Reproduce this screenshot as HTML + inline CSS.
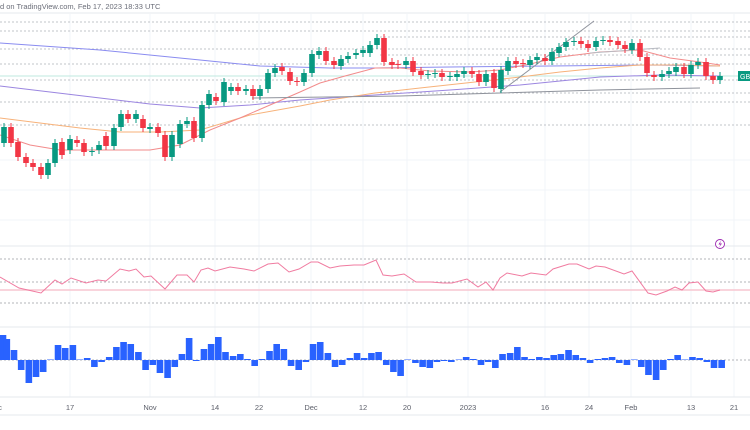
<!DOCTYPE html>
<html><head><meta charset="utf-8"><style>
html,body{margin:0;padding:0;background:#fff;width:750px;height:430px;overflow:hidden}
svg{display:block}
text{font-family:"Liberation Sans",sans-serif}
</style></head><body>
<svg id="s" width="750" height="430" xmlns="http://www.w3.org/2000/svg">
<rect width="750" height="430" fill="#fff"/>
<g id="grid" stroke="#f2f4f9" stroke-width="1"></g>
<line x1="0" y1="13" x2="750" y2="13" stroke="#e6e8ee"/>
<text x="0" y="9" font-size="7.5" fill="#6a6d78">d on TradingView.com, Feb 17, 2023 18:33 UTC</text>
<g id="levels" stroke="#aeb1b8" stroke-width="0.8" stroke-dasharray="2,2"></g>
<line x1="0" y1="76" x2="738" y2="76" stroke="#bfe8df" stroke-width="1"/>
<g fill="none" stroke-width="1">
<polyline stroke="#8a8cf0" points="0,43 100,50 200,60 260,66 330,68 375,68 450,67 550,66 650,65 720,66"/>
<polyline stroke="#9b86e0" points="0,86 50,92 100,98 150,104 200,108 250,105 300,100 375,95 450,90 520,85 600,77 660,75 720,76"/>
<polyline stroke="#f7b27a" points="0,118 40,123 80,128 120,132 160,132 200,130 250,115 300,106 330,100 375,93 420,88 475,82 520,77 560,72 600,68 640,65 680,65 720,66"/>
<polyline stroke="#f28b8b" points="0,135 30,145 60,150 100,150 150,150 180,145 210,130 240,118 270,105 300,92 320,83 345,76 375,68 400,68 430,71 470,72 500,70 530,64 560,57 600,52 640,50 670,58 700,62 720,65"/>
<polyline stroke="#8f939c" points="500,92 594,21"/>
<polyline stroke="#8f939c" points="252,98 400,96 500,93 600,90 700,88"/>
<polyline stroke="#b8bbc2" points="590,53 660,48"/>
</g>
<g id="candles"></g>
<rect x="738" y="71" width="12" height="10" fill="#089981"/>
<text x="740" y="79" font-size="7" fill="#fff">GBP</text>
<line x1="0" y1="246" x2="750" y2="246" stroke="#e6e8ee"/>
<circle cx="720" cy="244" r="4.5" fill="#fff" stroke="#9c27b0" stroke-width="0.9"/>
<path d="M721 240.5 L718.5 244.5 L720.5 244.5 L719 247.5 L722 243.5 L720 243.5 Z" fill="#9c27b0"/>
<g stroke="#9a9ca3" stroke-width="0.8" stroke-dasharray="2,2">
<line x1="0" y1="259" x2="750" y2="259"/><line x1="0" y1="282" x2="750" y2="282"/><line x1="0" y1="303" x2="750" y2="303"/>
</g>
<line x1="0" y1="290" x2="750" y2="290" stroke="#f7c6d0" stroke-width="1.5"/>
<polyline fill="none" stroke="#f07ba0" stroke-width="1" points="0,277 19,288 41,293 55,280 62,284 71,278 86,283 98,280 106,281 120,269 129,271 136,269 144,277 151,276 165,289 177,275 187,275 194,282 201,270 208,268 215,271 230,267 244,269 254,271 268,264 278,263 289,272 299,269 311,262 318,262 330,268 340,266 354,265 364,265 376,260 383,275 392,276 404,274 416,282 431,282 443,283 452,283 467,279 478,287 486,282 493,290 500,278 507,273 522,276 531,273 546,275 553,269 569,264 577,264 589,269 596,266 605,267 624,274 632,271 648,293 656,295 667,291 675,287 682,290 689,283 698,282 706,291 713,292 720,290"/>
<line x1="0" y1="327" x2="750" y2="327" stroke="#e6e8ee"/>
<line x1="0" y1="360" x2="750" y2="360" stroke="#9a9ca3" stroke-width="0.8" stroke-dasharray="2,2"/>
<g id="vol" fill="#2962ff"></g>
<line x1="0" y1="397" x2="750" y2="397" stroke="#e6e8ee"/>
<g font-size="7.5" fill="#5d606b" text-anchor="middle">
<text x="0" y="410">c</text><text x="70" y="410">17</text><text x="150" y="410">Nov</text><text x="215" y="410">14</text><text x="259" y="410">22</text><text x="311" y="410">Dec</text><text x="363" y="410">12</text><text x="407" y="410">20</text><text x="468" y="410">2023</text><text x="545" y="410">16</text><text x="589" y="410">24</text><text x="631" y="410">Feb</text><text x="691" y="410">13</text><text x="734" y="410">21</text>
</g>
<line x1="0" y1="415" x2="750" y2="415" stroke="#e6e8ee"/>
</svg>
<script>
var NS="http://www.w3.org/2000/svg";
function el(p,t,a){var e=document.createElementNS(NS,t);for(var k in a)e.setAttribute(k,a[k]);p.appendChild(e);return e;}
var g=document.getElementById("grid");
[70,150,215,259,311,363,407,468,545,589,631,691,734].forEach(function(x){el(g,"line",{x1:x,y1:14,x2:x,y2:397});});
[160,190,220].forEach(function(y){el(g,"line",{x1:0,y1:y,x2:750,y2:y});});
var lv=document.getElementById("levels");
[22,31,49,64,80,102,125].forEach(function(y){el(lv,"line",{x1:0,y1:y,x2:750,y2:y});});
[37,55,93].forEach(function(y){el(lv,"line",{x1:380,y1:y,x2:750,y2:y});});
var C=[[4,127,143,1],[11,127,143,0],[18,142,157,0],[26,157,163,0],[33,163,167,0],[41,167,175,0],[48,163,175,1],[55,143,163,1],[62,142,155,0],[70,139,150,1],[77,140,143,0],[84,143,152,0],[92,151,152,1],[99,145,150,1],[106,136,146,0],[114,128,146,1],[121,114,127,1],[128,114,119,0],[136,114,119,1],[143,119,128,0],[150,127,129,1],[158,127,133,0],[165,135,157,0],[172,135,157,1],[180,124,144,1],[187,121,124,1],[194,121,138,0],[202,105,138,1],[209,94,105,1],[216,97,101,0],[224,82,102,1],[231,87,91,1],[238,87,91,0],[246,89,91,1],[253,89,96,0],[260,89,96,1],[268,73,89,1],[275,68,73,1],[282,67,71,0],[290,72,81,0],[297,81,82,0],[304,73,82,1],[312,54,73,1],[319,51,55,1],[326,51,61,0],[334,61,65,0],[341,59,66,1],[348,56,59,1],[356,53,55,1],[363,50,53,1],[370,45,53,1],
[377,38,45,1],[384,38,62,0],[392,62,65,0],[398,64,65,0],[406,61,65,1],[413,61,72,0],[421,71,75,0],[428,74,75,1],[435,73,74,1],[442,73,77,0],[450,76,77,1],[457,74,77,1],[464,71,74,1],[472,71,74,0],[479,74,82,0],[486,74,82,1],[494,73,88,0],[501,70,89,1],[508,61,71,1],[516,61,64,0],[523,63,64,0],[530,60,65,1],[537,57,60,1],[545,58,61,0],[552,52,61,1],[559,47,53,1],[566,42,47,1],[574,41,42,1],[581,41,44,0],[588,44,48,0],[596,41,47,1],[603,40,41,1],[610,40,42,0],[618,41,45,0],[625,45,49,0],[632,43,50,1],[640,43,57,0],[647,57,73,0],[654,75,77,0],[662,74,77,1],[669,71,74,1],[676,67,72,1],[684,67,74,0],[691,65,74,1],[698,62,65,1],[706,62,76,0],[713,76,80,0],[720,76,80,1]];
var cg=document.getElementById("candles");
C.forEach(function(c){var col=c[3]?"#089981":"#f23645";
el(cg,"line",{x1:c[0],y1:c[1]-4,x2:c[0],y2:c[2]+4,stroke:col,"stroke-width":1});
el(cg,"rect",{x:c[0]-2.8,y:c[1],width:5.6,height:Math.max(1,c[2]-c[1]),fill:col});});
var V=[[0,25],[8,21],[23,10],[38,-10],[54,-23],[69,-17],[84,-12],[99,0],[115,15],[130,12],[146,15],[161,0],[176,2],[191,-7],[206,-2],[222,3],[237,13],[252,18],[267,16],[283,8],[298,-10],[313,-5],[328,-13],[344,-18],[359,-7],[374,6],[389,22],[404,-1],[420,11],[435,16],[450,23],[465,8],[481,4],[496,6],[511,1],[526,-6],[541,1],[557,9],[572,16],[587,11],[602,-6],[618,-10],[633,-2],[648,16],[663,18],[679,7],[694,-7],[709,-5],[725,2],[740,7],[755,2],[770,7],[785,8],[801,-5],[816,-12],[831,-16],[846,0],[862,-3],[877,-7],[892,-8],[907,-2],[922,-1],[937,-2],[953,0],[968,3],[983,1],[999,-5],[1014,-2],[1029,-8],[1044,6],[1060,7],[1075,13],[1090,3],[1105,1],[1121,3],[1136,2],[1151,5],[1166,6],[1182,10],[1197,5],[1212,2],[1227,-3],[1243,1],[1258,2],[1273,3],[1288,-3],[1304,-5],[1319,0],[1334,-7],[1349,-15],[1365,-20],[1380,-10],[1395,1],[1410,5],[1425,0],[1441,3],[1456,2],[1471,-2],[1486,-8],[1502,-8]];
var vg=document.getElementById("vol");
V.forEach(function(v){var x=v[0]/2.09+3,h=v[1];if(h==0)h=0.5;
el(vg,"rect",{x:x-3.3,y:h>0?360-h:360,width:6.6,height:Math.abs(h)});});
</script>
</body></html>
